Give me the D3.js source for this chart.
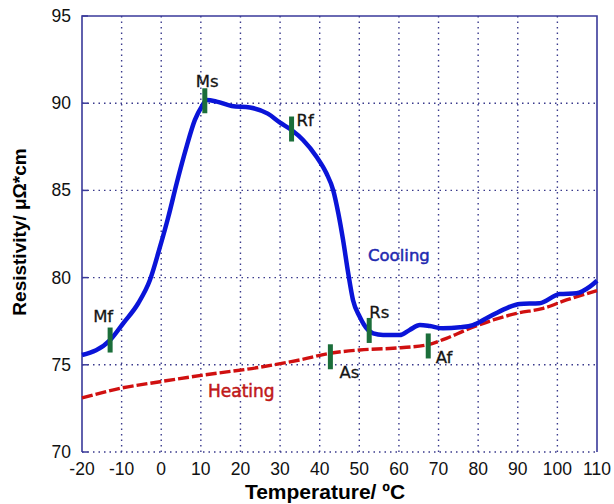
<!DOCTYPE html>
<html>
<head>
<meta charset="utf-8">
<script src="https://cdn.jsdelivr.net/npm/d3@7"></script>
<style>
  body { margin: 0; background: #fff; }
  text { font-family: "Liberation Sans", Arial, sans-serif; }
  .grid line { stroke: #3a3a8c; stroke-dasharray: 1.5 4; stroke-width: 1.4; }
  .lbl { font-family: "DejaVu Sans", sans-serif; }
</style>
</head>
<body>
<svg width="614" height="504"></svg>
<script>
// cooling curve (blue)
const coolT = [-20, -12.9, -9.6, -5.8, -2.85, -0.3, 1.8, 3.9, 6.4, 8.5, 10.2, 11.5, 14.0, 17.8, 22.4, 26.9, 29.9, 32.9, 35.8, 39.2, 41.7, 43.4, 44.7, 45.9, 47.2, 48.4, 50.1, 52.2, 53.5, 56, 60.2, 62.7, 65.3, 67.8, 71.1, 75.4, 78.7, 82.1, 87.1, 90.5, 95.5, 100.6, 104.8, 108.2, 110];
const coolR = [75.56, 76.42, 77.38, 78.53, 79.86, 81.77, 83.49, 85.41, 87.51, 89.04, 89.8, 90.18, 90.09, 89.84, 89.75, 89.4, 88.9, 88.46, 87.89, 86.93, 85.98, 85.02, 83.69, 82.16, 80.25, 78.72, 77.76, 77.0, 76.8, 76.71, 76.71, 77.0, 77.28, 77.22, 77.09, 77.15, 77.28, 77.67, 78.24, 78.49, 78.53, 79.06, 79.1, 79.48, 79.82];

// heating curve (red dashed)
const heatT = [-20, -10.4, -0.3, 10.6, 24.9, 35, 42.6, 50.1, 58.5, 67, 72, 77, 83.8, 89.7, 96.4, 102.3, 110];
const heatR = [73.1, 73.65, 74.03, 74.41, 74.86, 75.28, 75.66, 75.85, 75.95, 76.14, 76.52, 77.0, 77.57, 77.95, 78.24, 78.72, 79.25];

// transformation points
const markNames = ['Mf', 'Ms', 'Rf', 'Rs', 'As', 'Af'];
const markT = [-12.9, 11.0, 32.9, 52.5, 42.7, 67.4];
const markR = [76.42, 90.14, 88.52, 76.97, 75.46, 76.08];

const xTicks = [-20, -10, 0, 10, 20, 30, 40, 50, 60, 70, 80, 90, 100, 110];
const yTicks = [70, 75, 80, 85, 90, 95];

const svg = d3.select('svg');
const margin = {left: 82, right: 17, top: 16, bottom: 52};
const W = 614, H = 504;

const x = d3.scaleLinear().domain([-20, 110]).range([margin.left, W - margin.right]);
const y = d3.scaleLinear().domain([70, 95]).range([H - margin.bottom, margin.top]);

// grid
const grid = svg.append('g').attr('class', 'grid');
grid.selectAll('.gx').data(xTicks.slice(1, -1)).enter().append('line')
    .attr('x1', d => x(d)).attr('x2', d => x(d))
    .attr('y1', y(95)).attr('y2', y(70));
grid.selectAll('.gy').data(yTicks.slice(1, -1)).enter().append('line')
    .attr('x1', x(-20)).attr('x2', x(110))
    .attr('y1', d => y(d)).attr('y2', d => y(d));
grid.append('line')
    .attr('x1', x(-20)).attr('x2', x(110))
    .attr('y1', y(70)).attr('y2', y(70));

// frame (bottom edge stays dotted)
const frameColor = '#3a3a9a';
svg.append('path')
    .attr('d', `M${x(-20)},${y(70)}V${y(95)}H${x(110)}V${y(70)}`)
    .attr('fill', 'none').attr('stroke', frameColor).attr('stroke-width', 1.6);

// short inner ticks on the left axis
svg.append('g').selectAll('line').data(yTicks).enter().append('line')
    .attr('x1', x(-20)).attr('x2', x(-20) + 6)
    .attr('y1', d => y(d)).attr('y2', d => y(d))
    .attr('stroke', frameColor).attr('stroke-width', 1.5);

// tick labels
svg.append('g').selectAll('text').data(yTicks).enter().append('text')
    .attr('x', x(-20) - 11).attr('y', d => y(d) + 6)
    .attr('text-anchor', 'end').attr('font-size', 17.5).attr('fill', '#111')
    .text(d => d);
svg.append('g').selectAll('text').data(xTicks).enter().append('text')
    .attr('x', d => x(d)).attr('y', y(70) + 23)
    .attr('text-anchor', 'middle').attr('font-size', 17.5).attr('fill', '#111')
    .text(d => d);

// axis titles
svg.append('text')
    .attr('x', 325).attr('y', 499)
    .attr('text-anchor', 'middle').attr('font-size', 21).attr('font-weight', 'bold')
    .text('Temperature/ ºC');
svg.append('text')
    .attr('transform', 'translate(26, 232) rotate(-90)')
    .attr('text-anchor', 'middle').attr('font-size', 19).attr('font-weight', 'bold')
    .text('Resistivity/ μΩ*cm');

const line = d3.line()
    .x(d => x(d[0])).y(d => y(d[1]))
    .curve(d3.curveMonotoneX);

// heating
svg.append('path')
    .datum(d3.zip(heatT, heatR))
    .attr('d', line)
    .attr('fill', 'none').attr('stroke', '#d01010').attr('stroke-width', 3.4)
    .attr('stroke-dasharray', '11 3');

// cooling
svg.append('path')
    .datum(d3.zip(coolT, coolR))
    .attr('d', line)
    .attr('fill', 'none').attr('stroke', '#0a14d8').attr('stroke-width', 4.5)
    .attr('stroke-linejoin', 'round');

// markers
const marks = markNames.map((n, i) => ({name: n, t: markT[i], r: markR[i]}));
svg.append('g').selectAll('rect').data(marks).enter().append('rect')
    .attr('x', d => x(d.t) - 2.5).attr('y', d => y(d.r) - 12.5)
    .attr('width', 5).attr('height', 25)
    .attr('fill', '#1b6e3a');

const labelOffset = {
    Mf: [-17, -18], Ms: [-9, -14], Rf: [5, -3],
    Rs: [0, -12.5], As: [9, 21], Af: [7.5, 17]
};
svg.append('g').selectAll('text').data(marks).enter().append('text')
    .attr('class', 'lbl')
    .attr('x', d => x(d.t) + labelOffset[d.name][0])
    .attr('y', d => y(d.r) + labelOffset[d.name][1])
    .attr('font-size', 16.5).attr('fill', '#151515')
    .attr('stroke', '#151515').attr('stroke-width', 0.3)
    .text(d => d.name);

svg.append('text')
    .attr('class', 'lbl')
    .attr('x', 368).attr('y', 261)
    .attr('font-size', 16.5).attr('fill', '#1f2ab0')
    .attr('stroke', '#1f2ab0').attr('stroke-width', 0.5)
    .text('Cooling');
svg.append('text')
    .attr('class', 'lbl')
    .attr('x', 208).attr('y', 397)
    .attr('font-size', 17).attr('fill', '#c01818')
    .attr('stroke', '#c01818').attr('stroke-width', 0.5)
    .text('Heating');
</script>
</body>
</html>
